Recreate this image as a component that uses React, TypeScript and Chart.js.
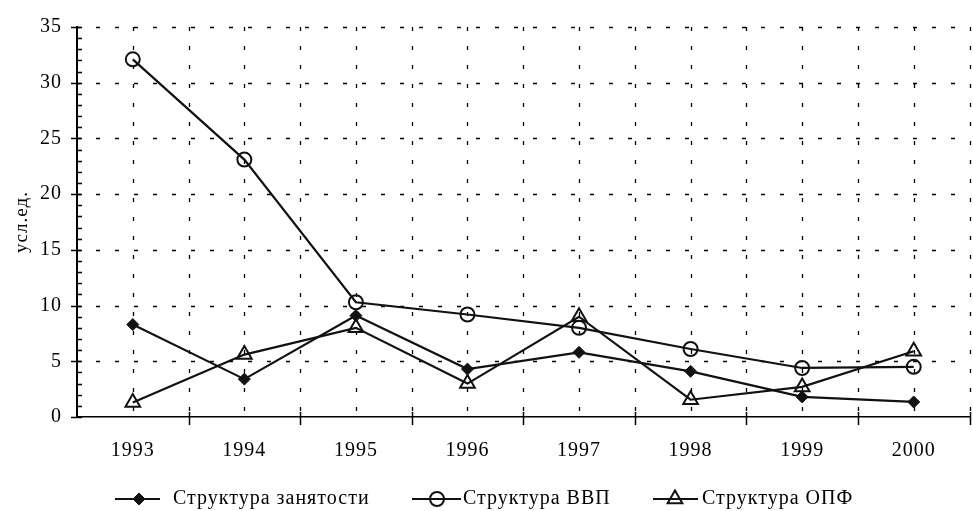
import React, { useEffect, useRef } from 'react';
import { Chart, registerables } from 'chart.js';
import { drawPoint } from 'chart.js/helpers';

Chart.register(...registerables);

const years = ['1993', '1994', '1995', '1996', '1997', '1998', '1999', '2000'];
const employment = [8.3, 3.4, 9.1, 4.3, 5.8, 4.1, 1.8, 1.35];
const gdp = [32.1, 23.1, 10.3, 9.2, 8.0, 6.1, 4.4, 4.5];
const opf = [1.3, 5.6, 8.0, 3.0, 9.0, 1.55, 2.7, 5.9];
const seriesNames = ['Структура занятости', 'Структура ВВП', 'Структура ОПФ'];
const yTitle = 'усл.ед.';
const yMin = 0;
const yMax = 35;
const yStep = 5;
const yMinorStep = 1;

const FONT = "'Liberation Serif', 'Times New Roman', serif";
const INK = '#111';
const GRID = '#000';
const GRID_DASH = [4, 15];

// legend layout (pixels)
const legendLayout = [
  { x1: 115, x2: 160, marker: 139, text: 173 },
  { x1: 412, x2: 461, marker: 437, text: 463 },
  { x1: 653, x2: 698, marker: 675, text: 702 },
];
const legendY = 499;

const decorPlugin = {
  id: 'decor',
  beforeUpdate(chart: any) {
    chart.ctx.letterSpacing = '1px';
  },
  beforeDraw(chart: any) {
    chart.ctx.letterSpacing = '1px';
  },
  beforeDatasetsDraw(chart: any) {
    const { ctx, chartArea: a, scales } = chart;
    const x = scales.x;
    const y = scales.y;
    const step = x.getPixelForValue(1) - x.getPixelForValue(0);
    const half = step / 2;
    const start = x.getPixelForValue(0) - half;
    ctx.save();
    ctx.strokeStyle = GRID;
    ctx.lineWidth = 1.3;
    ctx.setLineDash(GRID_DASH);
    // horizontal dashed grid lines
    for (let v = yMin + yStep; v <= yMax; v += yStep) {
      const py = Math.round(y.getPixelForValue(v)) + 0.5;
      ctx.beginPath();
      ctx.moveTo(a.left, py);
      ctx.lineTo(a.right, py);
      ctx.stroke();
    }
    // vertical dashed grid lines at centers and boundaries
    for (let i = 1; i <= years.length * 2; i++) {
      const px = Math.round(start + i * half) + 0.5;
      ctx.beginPath();
      ctx.moveTo(px, a.top);
      ctx.lineTo(px, a.bottom);
      ctx.stroke();
    }
    ctx.setLineDash([]);
    ctx.strokeStyle = '#000';
    ctx.lineWidth = 1.5;
    // y-axis ticks (major + minor)
    for (let v = yMin; v <= yMax; v += yMinorStep) {
      const py = Math.round(y.getPixelForValue(v)) + 0.5;
      const major = v % yStep === 0;
      ctx.beginPath();
      ctx.moveTo(a.left - (major ? 6 : 0), py);
      ctx.lineTo(a.left + 5, py);
      ctx.stroke();
    }
    // x-axis ticks at category boundaries
    for (let i = 1; i <= years.length; i++) {
      const px = Math.round(start + i * step) + 0.5;
      ctx.beginPath();
      ctx.moveTo(px, a.bottom - 5);
      ctx.lineTo(px, a.bottom + 8);
      ctx.stroke();
    }
    ctx.restore();
  },
  afterDraw(chart: any) {
    const { ctx } = chart;
    ctx.save();
    chart.data.datasets.forEach((ds: any, i: number) => {
      const L = legendLayout[i];
      ctx.strokeStyle = ds.borderColor;
      ctx.lineWidth = ds.borderWidth;
      ctx.setLineDash([]);
      ctx.beginPath();
      ctx.moveTo(L.x1, legendY);
      ctx.lineTo(L.x2, legendY);
      ctx.stroke();
      ctx.fillStyle = ds.pointBackgroundColor;
      ctx.strokeStyle = ds.pointBorderColor;
      ctx.lineWidth = ds.pointBorderWidth;
      drawPoint(ctx, { pointStyle: ds.pointStyle, rotation: 0, radius: ds.pointRadius, borderWidth: ds.pointBorderWidth }, L.marker, legendY);
      ctx.fillStyle = '#000';
      ctx.font = `20px ${FONT}`;
      ctx.textBaseline = 'middle';
      ctx.textAlign = 'left';
      (ctx as any).letterSpacing = '1px';
      ctx.fillText(ds.label, L.text, legendY);
    });
    ctx.restore();
  },
};

export default function App() {
  const ref = useRef<HTMLCanvasElement>(null);
  useEffect(() => {
    const chart = new Chart(ref.current as HTMLCanvasElement, {
      type: 'line',
      data: {
        labels: years,
        datasets: [
          {
            label: seriesNames[0],
            data: employment,
            borderColor: INK,
            borderWidth: 2.2,
            pointStyle: 'rectRot',
            pointRadius: 6,
            pointBackgroundColor: INK,
            pointBorderColor: INK,
            pointBorderWidth: 1,
            tension: 0,
          },
          {
            label: seriesNames[1],
            data: gdp,
            borderColor: INK,
            borderWidth: 2.2,
            pointStyle: 'circle',
            pointRadius: 7,
            pointBackgroundColor: 'rgba(0,0,0,0)',
            pointBorderColor: INK,
            pointBorderWidth: 2,
            tension: 0,
          },
          {
            label: seriesNames[2],
            data: opf,
            borderColor: INK,
            borderWidth: 2.2,
            pointStyle: 'triangle',
            pointRadius: 8.5,
            pointBackgroundColor: 'rgba(0,0,0,0)',
            pointBorderColor: INK,
            pointBorderWidth: 2,
            tension: 0,
          },
        ],
      } as any,
      options: {
        responsive: false,
        devicePixelRatio: 1,
        animation: false,
        layout: { padding: { top: 24, right: 3, left: 0, bottom: 0 } },
        plugins: { legend: { display: false }, tooltip: { enabled: false } },
        scales: {
          x: {
            type: 'category',
            offset: true,
            grid: { display: false, drawTicks: false },
            border: { display: true, color: '#000', width: 1.5 },
            ticks: { color: '#000', font: { family: FONT, size: 20 }, padding: 22, maxRotation: 0 },
            afterFit: (s: any) => {
              s.height = 94;
            },
          },
          y: {
            min: yMin,
            max: yMax,
            ticks: { stepSize: yStep, color: '#000', font: { family: FONT, size: 20 }, padding: 15 },
            grid: { display: false, drawTicks: false },
            border: { display: true, color: '#000', width: 2 },
            title: {
              display: true,
              text: yTitle,
              color: '#000',
              font: { family: FONT, size: 19 },
              padding: { top: 11, bottom: 0 },
            },
            afterFit: (s: any) => {
              s.width = 77;
            },
          },
        },
      } as any,
      plugins: [decorPlugin],
    });
    return () => chart.destroy();
  }, []);
  return (
    <div style={{ position: 'absolute', left: 0, top: 0, width: 973, height: 511, overflow: 'hidden', background: '#fff' }}>
      <canvas ref={ref} width={980} height={511} style={{ display: 'block' }} />
    </div>
  );
}
